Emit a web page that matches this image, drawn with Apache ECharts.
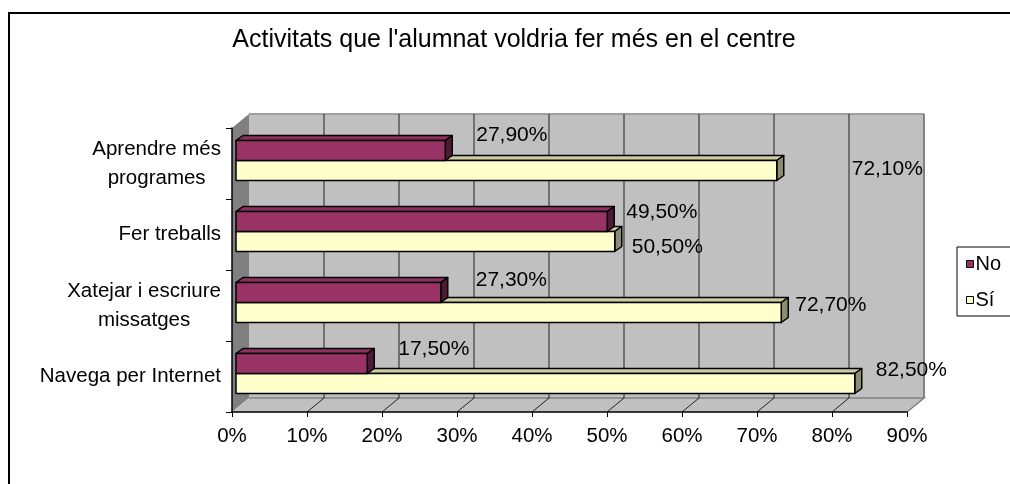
<!DOCTYPE html>
<html>
<head>
<meta charset="utf-8">
<title>Activitats que l'alumnat voldria fer més en el centre</title>
<script src="https://cdn.jsdelivr.net/npm/echarts@6/dist/echarts.min.js"></script>
<style>
  html, body { margin: 0; padding: 0; background: #ffffff; }
  #main-chart { width: 1010px; height: 484px; }
</style>
</head>
<body>
<div id="main-chart"></div>
<script>
// dades del gràfic (de baix a dalt)
const categories = [
  'Navega per Internet',
  'Xatejar i escriure\nmissatges',
  'Fer treballs',
  'Aprendre més\nprogrames'
];
const noValues = [17.5, 27.3, 49.5, 27.9];
const siValues = [82.5, 72.7, 50.5, 72.1];
const xTickLabels = ['0%', '10%', '20%', '30%', '40%', '50%', '60%', '70%', '80%', '90%'];

const FONT = '"Liberation Sans", Arial, sans-serif';
const WALL_DEPTH = [17, -14];   // profunditat de les parets
const BAR_SHIFT = [4, -3];      // les barres no estan al pla frontal
const BAR_DEPTH = [7, -5];
const BAR_H = 20;

// on posa Excel les etiquetes (respecte el final i el centre de la barra)
const noLabelNudge = [[31, -14], [35, -12], [19, -9], [31, -15]];
const siLabelNudge = [[21, -13], [14, -7], [17, 6], [75, -1]];

function fmtPct(v) {
  return v.toFixed(2).replace('.', ',') + '%';
}

// parets, terra i línies de la quadrícula
function renderFrame(params, api) {
  const cs = params.coordSys;
  const dx = WALL_DEPTH[0], dy = WALL_DEPTH[1];
  const left = cs.x, top = cs.y, right = cs.x + cs.width, bottom = cs.y + cs.height;
  const children = [];

  children.push({
    type: 'rect',
    shape: { x: left + dx, y: top + dy, width: cs.width, height: cs.height },
    style: { fill: '#C0C0C0' }
  });
  children.push({
    type: 'polygon',
    shape: { points: [[left, top], [left + dx, top + dy], [left + dx, bottom + dy], [left, bottom]] },
    style: { fill: '#808080' }
  });
  children.push({
    type: 'polygon',
    shape: { points: [[left, bottom], [left + dx, bottom + dy], [right + dx, bottom + dy], [right, bottom]] },
    style: { fill: '#C0C0C0' }
  });
  // vores
  children.push({
    type: 'polyline',
    shape: { points: [[left + dx, bottom + dy], [right + dx, bottom + dy], [right, bottom]] },
    style: { stroke: '#808080', lineWidth: 1.5, fill: null }
  });
  children.push({
    type: 'line',
    shape: { x1: left + dx, y1: top + dy, x2: right + dx, y2: top + dy },
    style: { stroke: '#A0A0A0', lineWidth: 2 }
  });
  children.push({
    type: 'line',
    shape: { x1: right + dx, y1: top + dy, x2: right + dx, y2: bottom + dy },
    style: { stroke: '#808080', lineWidth: 2 }
  });

  for (let i = 1; i < xTickLabels.length - 1; i++) {
    const x = api.coord([i * 10, 0])[0];
    children.push({
      type: 'line',
      shape: { x1: x + dx, y1: top + dy, x2: x + dx, y2: bottom + dy },
      style: { stroke: '#222', lineWidth: 1 }
    });
    children.push({
      type: 'line',
      shape: { x1: x, y1: bottom, x2: x + dx, y2: bottom + dy },
      style: { stroke: '#222', lineWidth: 1 }
    });
  }
  return { type: 'group', children: children };
}

// barra 3D: cara frontal, cara superior, costat i etiqueta
function makeBarRenderer(slot, colors, nudges) {
  return function (params, api) {
    const val = api.value(0);
    const cat = api.value(1);
    const base = api.coord([0, cat]);
    const end = api.coord([val, cat]);
    const x0 = base[0] + BAR_SHIFT[0];
    const x1 = end[0] + BAR_SHIFT[0];
    const y0 = base[1] + BAR_SHIFT[1] - BAR_H + slot * BAR_H;
    const y1 = y0 + BAR_H;
    const dx = BAR_DEPTH[0], dy = BAR_DEPTH[1];
    const line = { stroke: '#000', lineWidth: 1.5, lineJoin: 'round' };
    const nudge = nudges[params.dataIndex];

    return {
      type: 'group',
      children: [
        {
          type: 'polygon',
          shape: { points: [[x0, y0], [x0 + dx, y0 + dy], [x1 + dx, y0 + dy], [x1, y0]] },
          style: Object.assign({ fill: colors.top }, line)
        },
        {
          type: 'polygon',
          shape: { points: [[x1, y0], [x1 + dx, y0 + dy], [x1 + dx, y1 + dy], [x1, y1]] },
          style: Object.assign({ fill: colors.side }, line)
        },
        {
          type: 'rect',
          shape: { x: x0, y: y0, width: x1 - x0, height: BAR_H },
          style: Object.assign({ fill: colors.front }, line)
        },
        {
          type: 'text',
          x: x1 + nudge[0],
          y: (y0 + y1) / 2 + nudge[1],
          style: {
            text: fmtPct(val),
            fill: '#000',
            font: '21px ' + FONT,
            align: 'left',
            verticalAlign: 'middle'
          }
        }
      ]
    };
  };
}

const chartDom = document.getElementById('main-chart');
const myChart = echarts.init(chartDom, null, { renderer: 'canvas' });

const option = {
  animation: false,
  backgroundColor: '#ffffff',
  title: {
    text: "Activitats que l'alumnat voldria fer més en el centre",
    left: 509,
    top: 23,
    textAlign: 'center',
    textStyle: { fontFamily: FONT, fontSize: 25, fontWeight: 'normal', color: '#000' }
  },
  graphic: [
    {
      type: 'rect',
      shape: { x: 9, y: 13, width: 1100, height: 600 },
      style: { fill: null, stroke: '#000', lineWidth: 2 },
      silent: true
    }
  ],
  legend: {
    orient: 'vertical',
    left: 957,
    top: 247,
    padding: [7, 10, 6, 9],
    itemGap: 16,
    itemWidth: 7,
    itemHeight: 7,
    icon: 'rect',
    backgroundColor: '#fff',
    borderColor: '#000',
    borderWidth: 1,
    borderRadius: 0,
    itemStyle: { borderColor: '#000', borderWidth: 1 },
    textStyle: { fontFamily: FONT, fontSize: 20, color: '#000', padding: [0, 0, 0, -3] },
    data: ['No', 'Sí']
  },
  grid: {
    left: 232,
    right: 103,
    top: 128,
    bottom: 72
  },
  xAxis: {
    type: 'value',
    min: 0,
    max: 90,
    interval: 10,
    z: 3,
    axisLine: { show: true, lineStyle: { color: '#000', width: 1.5 } },
    axisTick: { show: true, length: 5, lineStyle: { color: '#000' } },
    splitLine: { show: false },
    axisLabel: {
      margin: 14,
      color: '#000',
      fontFamily: FONT,
      fontSize: 20.5,
      formatter: function (v) { return xTickLabels[Math.round(v / 10)]; }
    }
  },
  yAxis: {
    type: 'category',
    data: categories,
    z: 3,
    axisLine: { show: true, lineStyle: { color: '#000', width: 1.5 } },
    axisTick: { show: true, length: 6, lineStyle: { color: '#000' } },
    axisLabel: {
      margin: 11,
      formatter: function (v) {
        return v.split('\n').map(function (s) { return '{c|' + s + '}'; }).join('\n');
      },
      rich: {
        c: { fontFamily: FONT, fontSize: 20.5, color: '#000', align: 'center', lineHeight: 29 }
      }
    }
  },
  series: [
    {
      name: 'frame',
      type: 'custom',
      z: 1,
      silent: true,
      clip: false,
      renderItem: renderFrame,
      data: [[0, 0]],
      encode: { x: 0, y: 1 }
    },
    {
      name: 'Sí',
      type: 'custom',
      z: 4,
      clip: false,
      itemStyle: { color: '#FFFFCC' },
      renderItem: makeBarRenderer(1, { front: '#FFFFCC', top: '#CCCCA3', side: '#8C8C70' }, siLabelNudge),
      data: siValues.map(function (v, i) { return [v, i]; }),
      encode: { x: 0, y: 1 }
    },
    {
      name: 'No',
      type: 'custom',
      z: 4,
      clip: false,
      itemStyle: { color: '#993366' },
      renderItem: makeBarRenderer(0, { front: '#993366', top: '#8E3060', side: '#4D1A33' }, noLabelNudge),
      data: noValues.map(function (v, i) { return [v, i]; }),
      encode: { x: 0, y: 1 }
    }
  ]
};

option && myChart.setOption(option);
</script>
</body>
</html>
